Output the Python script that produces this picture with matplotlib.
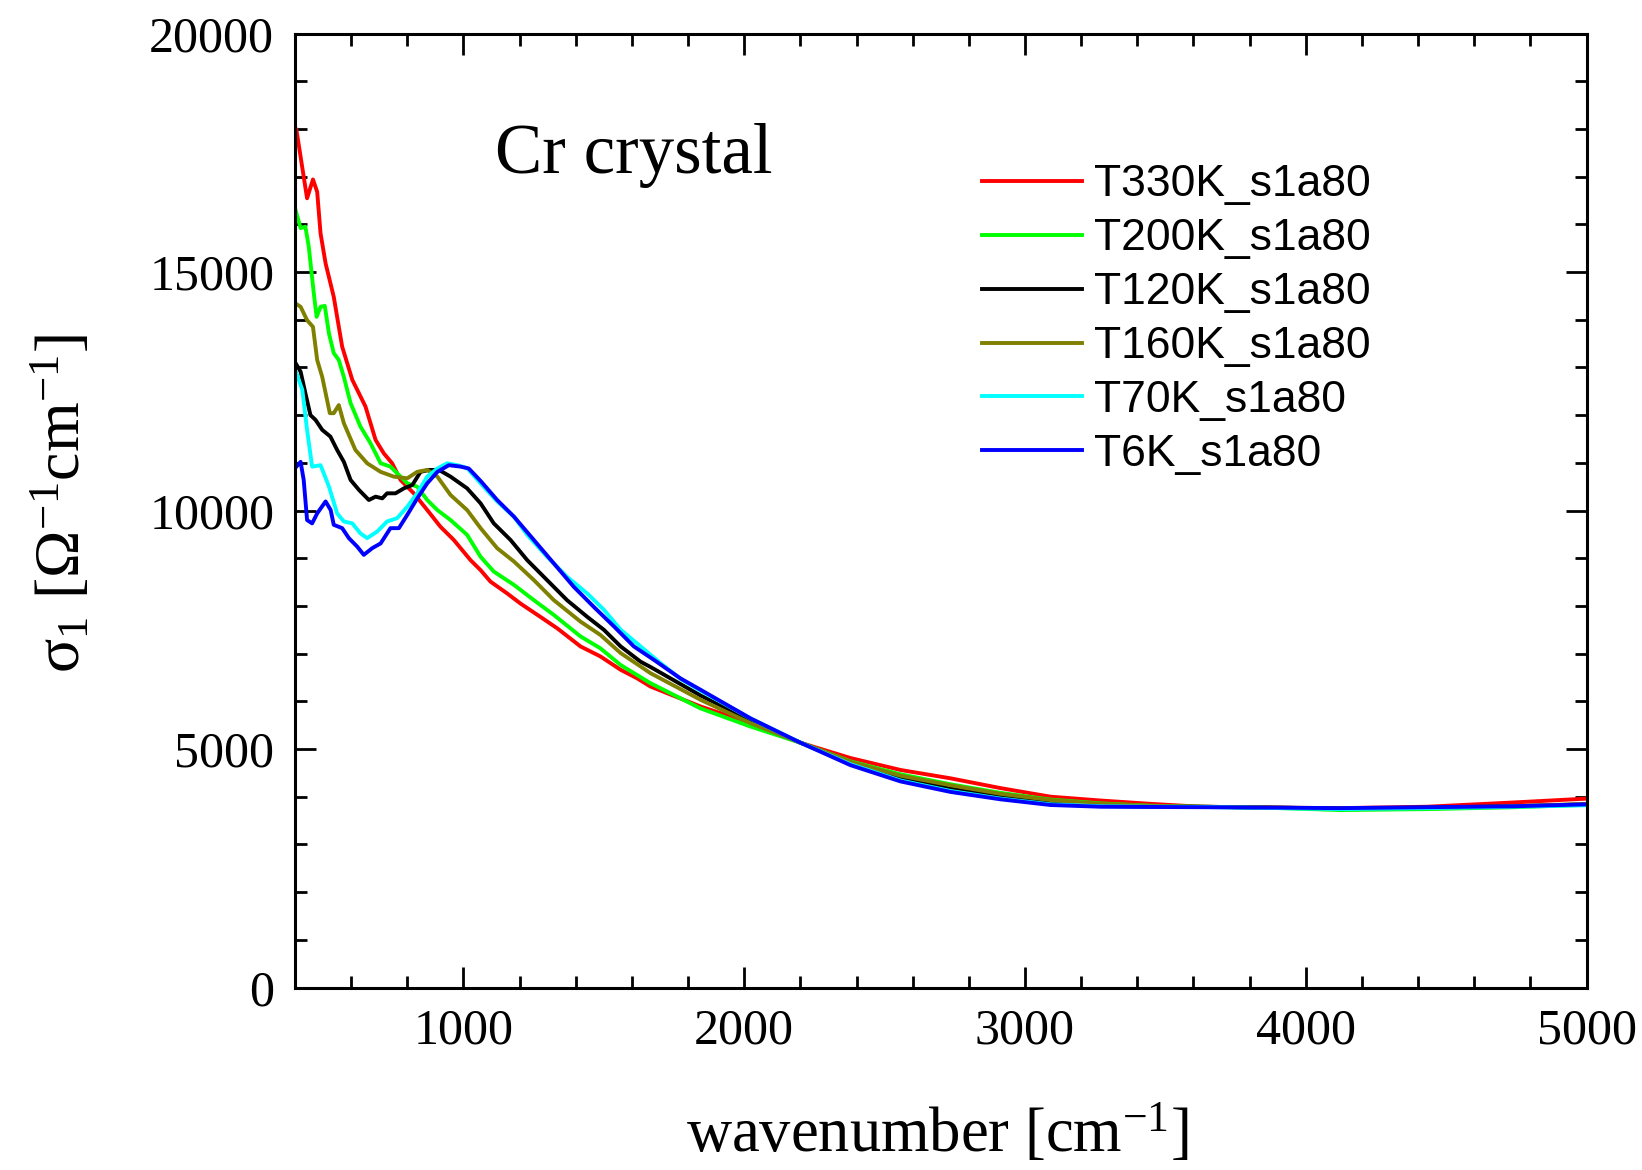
import matplotlib
matplotlib.use("Agg")
import matplotlib.pyplot as plt
from matplotlib.ticker import MultipleLocator

plt.rcParams["font.family"] = ["Liberation Serif", "DejaVu Serif"]
plt.rcParams["mathtext.fontset"] = "custom"
plt.rcParams["mathtext.rm"] = "Liberation Serif"
plt.rcParams["mathtext.it"] = "Liberation Serif:italic"
plt.rcParams["mathtext.bf"] = "Liberation Serif:bold"

# Optical conductivity sigma_1 of a Cr crystal at several temperatures
labels = ["T330K_s1a80", "T200K_s1a80", "T120K_s1a80",
          "T160K_s1a80", "T70K_s1a80", "T6K_s1a80"]
colors = ["#ff0000", "#00ff00", "#000000", "#808000", "#00ffff", "#0000ff"]

x_330 = [405, 443, 464, 479, 491, 509, 538, 568, 604, 651, 687, 716, 746, 776,
         823, 871, 918, 966, 1025, 1061, 1096, 1156, 1203, 1274, 1334, 1417,
         1488, 1560, 1619, 1666, 1845, 2023, 2201, 2379, 2557, 2735, 2913,
         3091, 3269, 3447, 3625, 3914, 4123, 4433, 4744, 5000]
y_330 = [17980, 16545, 16940, 16680, 15810, 15180, 14480, 13435, 12740, 12180,
         11480, 11200, 10990, 10640, 10360, 10010, 9660, 9380, 8960, 8750,
         8510, 8260, 8050, 7770, 7530, 7150, 6940, 6660, 6480, 6310, 5890,
         5540, 5130, 4810, 4560, 4385, 4180, 4000, 3920, 3850, 3790, 3770,
         3760, 3790, 3880, 3960]

x_200 = [402, 420, 437, 449, 467, 477, 491, 506, 521, 538, 556, 574, 598, 633,
         669, 705, 740, 764, 800, 835, 871, 907, 954, 1013, 1061, 1108, 1180,
         1251, 1322, 1417, 1488, 1560, 1666, 1845, 2023, 2201, 2379, 2557,
         2735, 2913, 3091, 3269, 3447, 3625, 3914, 4123, 4433, 4744, 5000]
y_200 = [16300, 15920, 15950, 15530, 14550, 14060, 14270, 14290, 13710, 13300,
         13155, 12800, 12250, 11760, 11410, 10990, 10920, 10780, 10570, 10500,
         10220, 10010, 9800, 9490, 9030, 8720, 8440, 8120, 7810, 7360, 7110,
         6760, 6380, 5850, 5470, 5130, 4740, 4470, 4260, 4080, 3940, 3860,
         3810, 3790, 3760, 3720, 3740, 3780, 3830]

x_120 = [402, 420, 437, 455, 473, 497, 526, 550, 574, 598, 628, 663, 687, 711,
         728, 758, 788, 818, 847, 877, 913, 954, 1013, 1061, 1108, 1168, 1227,
         1298, 1369, 1441, 1500, 1560, 1631, 1666, 1845, 2023, 2201, 2379,
         2557, 2735, 2913, 3091, 3269, 3447, 3625, 3914, 4123, 4433, 4744,
         5000]
y_120 = [13090, 12910, 12460, 12000, 11900, 11690, 11550, 11270, 11020, 10640,
         10430, 10220, 10290, 10255, 10360, 10360, 10465, 10535, 10810, 10850,
         10850, 10710, 10465, 10150, 9730, 9380, 8960, 8540, 8120, 7770, 7500,
         7150, 6830, 6720, 6120, 5600, 5130, 4700, 4400, 4170, 4000, 3880,
         3810, 3790, 3790, 3770, 3750, 3770, 3800, 3840]

x_160 = [402, 420, 443, 464, 479, 497, 524, 538, 556, 574, 615, 657, 705, 752,
         800, 835, 871, 907, 954, 1013, 1061, 1120, 1180, 1251, 1322, 1417,
         1488, 1560, 1631, 1666, 1845, 2023, 2201, 2379, 2557, 2735, 2913,
         3091, 3269, 3447, 3625, 3914, 4123, 4433, 4744, 5000]
y_160 = [14340, 14270, 13990, 13850, 13155, 12800, 12040, 12040, 12210, 11830,
         11270, 10990, 10810, 10710, 10675, 10810, 10850, 10710, 10325, 10010,
         9630, 9210, 8930, 8540, 8120, 7670, 7390, 7010, 6730, 6590, 6030,
         5540, 5130, 4730, 4440, 4240, 4060, 3930, 3850, 3810, 3790, 3770,
         3750, 3770, 3800, 3850]

x_70 = [405, 426, 443, 461, 491, 521, 550, 574, 604, 633, 657, 693, 728, 764,
        800, 835, 871, 907, 942, 978, 1013, 1061, 1120, 1180, 1227, 1298,
        1369, 1441, 1500, 1560, 1631, 1702, 1773, 1845, 2023, 2201, 2379,
        2557, 2735, 2913, 3091, 3269, 3447, 3625, 3914, 4123, 4433, 4744, 5000]
y_70 = [12880, 12530, 11690, 10920, 10950, 10500, 9940, 9770, 9730, 9520,
        9420, 9560, 9770, 9840, 10080, 10360, 10710, 10880, 10990, 10950,
        10890, 10570, 10190, 9870, 9490, 9030, 8610, 8260, 7920, 7500, 7150,
        6800, 6470, 6220, 5640, 5130, 4680, 4340, 4120, 3960, 3840, 3800,
        3790, 3785, 3760, 3740, 3760, 3790, 3820]

x_6 = [405, 420, 431, 443, 461, 479, 509, 527, 538, 568, 592, 622, 645, 675,
       705, 740, 770, 800, 835, 871, 907, 948, 990, 1019, 1061, 1120, 1180,
       1251, 1322, 1393, 1464, 1536, 1607, 1678, 1773, 1845, 2023, 2201, 2379,
       2557, 2735, 2913, 3091, 3269, 3447, 3625, 3914, 4123, 4433, 4744, 5000]
y_6 = [10920, 11020, 10640, 9800, 9730, 9940, 10190, 10010, 9700, 9630, 9420,
       9240, 9070, 9210, 9310, 9630, 9630, 9910, 10250, 10570, 10810, 10950,
       10920, 10880, 10620, 10220, 9870, 9380, 8890, 8400, 7980, 7570, 7150,
       6870, 6480, 6240, 5640, 5130, 4660, 4320, 4100, 3945, 3826, 3790,
       3785, 3780, 3770, 3760, 3780, 3800, 3840]

series_x = [x_330, x_200, x_120, x_160, x_70, x_6]
series_y = [y_330, y_200, y_120, y_160, y_70, y_6]

W, H = 1642, 1170
fig = plt.figure(figsize=(W / 100, H / 100), dpi=100)
ax = fig.add_axes([295 / W, 1 - 987.5 / H, (1586.5 - 295) / W, (987.5 - 33.5) / H])

for xs, ys, c, lab in zip(series_x, series_y, colors, labels):
    ax.plot(xs, ys, color=c, lw=2.8, label=lab)

ax.set_xlim(400, 5000)
ax.set_ylim(0, 20000)
ax.xaxis.set_major_locator(MultipleLocator(1000))
ax.xaxis.set_minor_locator(MultipleLocator(200))
ax.yaxis.set_major_locator(MultipleLocator(5000))
ax.yaxis.set_minor_locator(MultipleLocator(1000))
ax.tick_params(which="both", direction="in", top=True, right=True,
               width=2.0, labelsize=36, pad=15)
ax.tick_params(which="major", length=15)
ax.tick_params(which="minor", length=8.5)
for sp in ax.spines.values():
    sp.set_linewidth(2.2)

fig.text(937 / W, 1 - 1152 / H, "wavenumber [cm$^{-1}$]", fontsize=45,
         ha="center", va="baseline")
fig.text(63 / W, 1 - 503 / H, "σ$_1$ [Ω$^{-1}$cm$^{-1}$]", fontsize=46,
         ha="center", va="center", rotation=90)
fig.text(495 / W, 1 - 173 / H, "Cr crystal", fontsize=51, ha="left",
         va="baseline")

leg = ax.legend(loc="upper left", bbox_to_anchor=(982 / W, 1 - 164.5 / H),
                bbox_transform=fig.transFigure, frameon=False,
                prop={"family": "Liberation Sans", "size": 32},
                handlelength=2.25, handletextpad=0.27, labelspacing=0.29,
                borderpad=0, borderaxespad=0)

fig.savefig("out.png", dpi=100)
